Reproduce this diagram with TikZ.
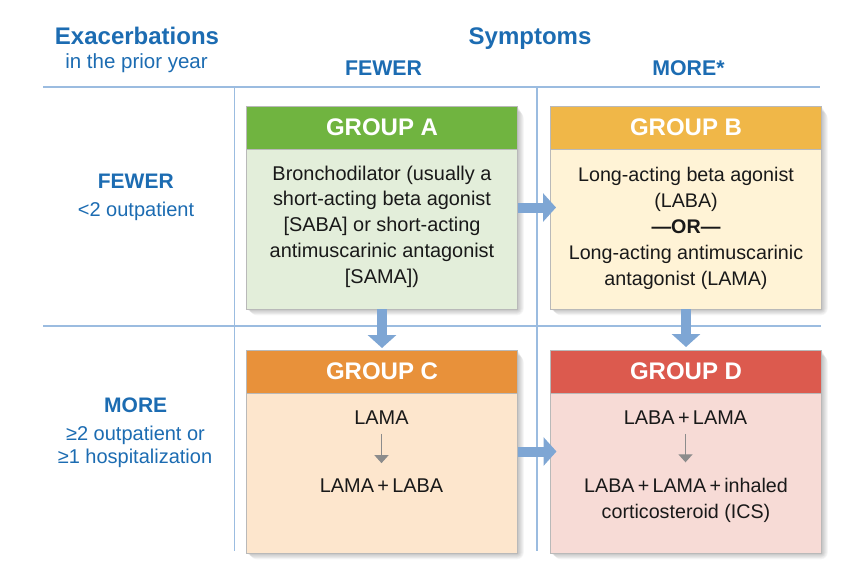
\documentclass[tikz,border=0pt]{standalone}
\usepackage{fontspec}
\setmainfont{Liberation Sans}
\usetikzlibrary{arrows.meta}
\definecolor{txtblue}{RGB}{28,108,178}
\definecolor{gridblue}{RGB}{155,188,224}
\definecolor{arrblue}{RGB}{126,166,212}
\definecolor{boxborder}{RGB}{185,185,185}
\definecolor{Ahead}{RGB}{112,180,64}
\definecolor{Abody}{RGB}{227,238,218}
\definecolor{Bhead}{RGB}{240,183,72}
\definecolor{Bbody}{RGB}{255,243,214}
\definecolor{Chead}{RGB}{232,145,58}
\definecolor{Cbody}{RGB}{253,230,205}
\definecolor{Dhead}{RGB}{220,90,78}
\definecolor{Dbody}{RGB}{247,219,214}
\definecolor{bodytxt}{RGB}{25,25,25}
\definecolor{smallarr}{RGB}{140,140,140}
\newcommand\myshadow[4]{%
  \foreach \k in {1,...,7}{%
    \fill[black,opacity=0.035,rounded corners=\k pt] (#1+\k*0.5,#2+\k*0.8) rectangle (#3+\k*0.9,#4+\k*0.9);}}
\begin{document}
\begin{tikzpicture}[x=1pt,y=-1pt,
  gridline/.style={draw=gridblue,line width=1.6pt},
  boxbody/.style={draw=boxborder,line width=0.6pt,inner sep=0pt,outer sep=0pt,
    minimum width=271pt,minimum height=203pt,anchor=north west},
  hdr/.style={draw=boxborder,line width=0.6pt,inner sep=0pt,outer sep=0pt,
    minimum width=271pt,minimum height=43pt,anchor=north west,text=white,
    font=\fontsize{24}{28}\selectfont\bfseries},
  bodytext/.style={text=bodytxt,align=center,inner sep=0pt,
    font=\fontsize{19.9}{25.7}\selectfont},
  titletext/.style={text=txtblue,inner sep=0pt,font=\fontsize{24}{28}\selectfont\bfseries},
  subtext/.style={text=txtblue,inner sep=0pt,font=\fontsize{20.5}{24}\selectfont},
  colhead/.style={text=txtblue,inner sep=0pt,font=\fontsize{21.3}{24}\selectfont\bfseries},
  rowhead/.style={text=txtblue,inner sep=0pt,font=\fontsize{21}{24}\selectfont\bfseries},
  rowtext/.style={text=txtblue,inner sep=0pt,font=\fontsize{20}{24}\selectfont},
  bigarrow/.style={draw=arrblue,line width=10pt,-{Triangle[length=13pt,width=28pt]},arrblue},
  smallarrow/.style={draw=smallarr,line width=1.3pt,-{Triangle[length=8pt,width=14pt]},smallarr}
]
\useasboundingbox (0,0) rectangle (864,578);
\fill[white] (0,0) rectangle (864,578);

% grid
\coordinate (h1l) at (43,87);   \coordinate (h1r) at (820,87);
\coordinate (h2l) at (43,326);  \coordinate (h2r) at (821,326);
\coordinate (v1t) at (234.5,87); \coordinate (v1b) at (234.5,551);
\coordinate (v2t) at (537,87);   \coordinate (v2b) at (537,551);
\draw[gridline] (h1l) -- (h1r);
\draw[gridline] (h2l) -- (h2r);
\draw[gridline] (v1t) -- (v1b);
\draw[gridline] (v2t) -- (v2b);

% headings
\node[titletext,anchor=base] (exac) at (137,45) {Exacerbations};
\node[subtext,anchor=base] (prior) at (136.5,69) {in the prior year};
\node[titletext,anchor=base] (symp) at (530,45) {Symptoms};
\node[colhead] (colfew) at (383.5,68) {FEWER};
\node[colhead] (colmore) at (688.5,68) {MORE*};

\node[rowhead] (rowfew) at (135.8,181.7) {FEWER};
\node[rowtext,anchor=base] (rowfewt) at (136,216.7) {<2 outpatient};
\node[rowhead] (rowmore) at (135.7,405) {MORE};
\node[rowtext,anchor=base] (rowmoret1) at (135.5,440) {≥2 outpatient or};
\node[rowtext,anchor=base] (rowmoret2) at (135,463.3) {≥1 hospitalization};

% shadows
\myshadow{246.5}{106}{517.5}{309}
\myshadow{550.5}{106}{821.5}{309}
\myshadow{246.5}{350}{517.5}{553}
\myshadow{550.5}{350}{821.5}{553}

% boxes
\node[boxbody,fill=Abody] (A) at (246.5,106) {};
\node[hdr,fill=Ahead] (Ah) at (A.north west) {GROUP A};
\node[boxbody,fill=Bbody] (B) at (550.5,106) {};
\node[hdr,fill=Bhead] (Bh) at (B.north west) {GROUP B};
\node[boxbody,fill=Cbody] (C) at (246.5,350) {};
\node[hdr,fill=Chead] (Ch) at (C.north west) {GROUP C};
\node[boxbody,fill=Dbody] (D) at (550.5,350) {};
\node[hdr,fill=Dhead] (Dh) at (D.north west) {GROUP D};

% box texts
\node[bodytext] (At) at (382,226.5) {Bronchodilator (usually a\\short-acting beta agonist\\{}[SABA] or short-acting\\antimuscarinic antagonist\\{}[SAMA])};
\node[bodytext,font=\fontsize{19.7}{26.2}\selectfont] (Bt) at (686,228.5) {Long-acting beta agonist\\(LABA)\\\textbf{—OR—}\\Long-acting antimuscarinic\\antagonist (LAMA)};
\node[bodytext] (C1) at (381.5,417.3) {LAMA};
\node[bodytext] (C2) at (381.5,485.7) {LAMA\,+\,LABA};
\node[bodytext] (D1) at (685.5,417.3) {LABA\,+\,LAMA};
\node[bodytext,font=\fontsize{19.7}{26.6}\selectfont] (D2) at (686,500.5) {LABA\,+\,LAMA\,+\,inhaled\\corticosteroid (ICS)};

% small arrows
\draw[smallarrow,shorten <=9.5pt,shorten >=15.5pt] (C1.south) -- (C2.north);
\draw[smallarrow,shorten <=9.5pt,shorten >=15.5pt] (D1.south) -- (D1.south |- D2.north);

% big arrows
\draw[bigarrow,shorten >=-5.5pt] (A.east) -- (B.west);
\draw[bigarrow,shorten >=2pt] (A.south) -- (C.north);
\draw[bigarrow,shorten >=3pt] (B.south) -- (D.north);
\draw[bigarrow,shorten >=-6pt] (C.east) -- (D.west);
\end{tikzpicture}
\end{document}
